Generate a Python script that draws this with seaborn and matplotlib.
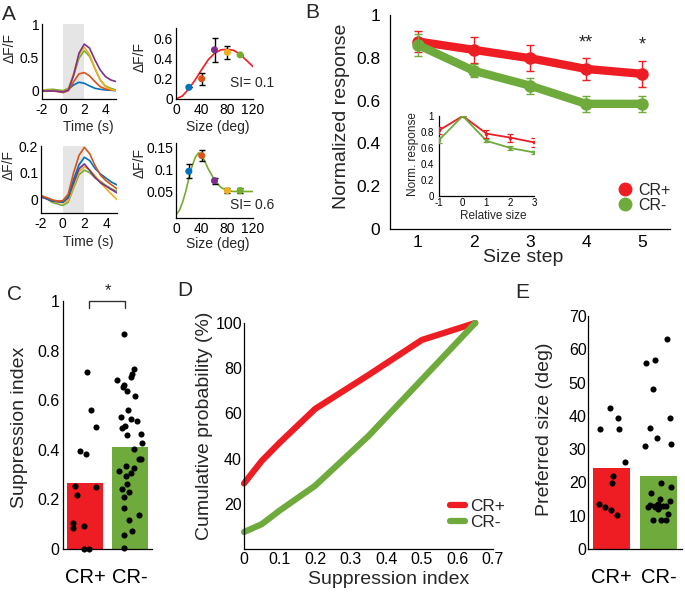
import numpy as np
import pandas as pd
import matplotlib
matplotlib.use("Agg")
import matplotlib.pyplot as plt
import seaborn as sns
from matplotlib.transforms import Affine2D
from matplotlib.lines import Line2D
from matplotlib.ticker import FuncFormatter, FixedFormatter

# ------------------------------------------------------------------ data
# Panel A: example calcium traces (dF/F) for five stimulus sizes
t_sec = [-2, -1.5, -1, -0.5, 0, 0.5, 1, 1.5, 2, 2.5, 3, 3.5, 4, 4.5, 5]
trace1_blue   = [0.0, 0.0, 0.0, 0.0, -0.015, 0.025, 0.09, 0.13, 0.115, 0.075, 0.04, 0.025, 0.015, 0.01, 0.005]
trace1_orange = [0.0, 0.0, 0.0, -0.01, -0.025, 0.005, 0.14, 0.255, 0.275, 0.225, 0.14, 0.065, 0.03, 0.015, 0.015]
trace1_yellow = [0.015, 0.01, 0.005, 0.0, -0.015, 0.025, 0.265, 0.54, 0.655, 0.54, 0.34, 0.165, 0.065, 0.025, 0.005]
trace1_green  = [0.015, 0.02, 0.025, 0.015, 0.005, 0.04, 0.24, 0.49, 0.6, 0.515, 0.34, 0.165, 0.075, 0.04, 0.015]
trace1_purple = [0.0, 0.0, 0.0, -0.005, -0.015, 0.015, 0.24, 0.565, 0.70, 0.64, 0.465, 0.315, 0.215, 0.165, 0.14]

trace2_blue   = [0.012, 0.005, -0.004, -0.006, -0.009, 0.01, 0.075, 0.13, 0.158, 0.145, 0.115, 0.095, 0.08, 0.065, 0.055]
trace2_orange = [0.015, 0.008, 0.0, -0.006, -0.004, 0.02, 0.1, 0.165, 0.195, 0.17, 0.125, 0.09, 0.07, 0.055, 0.04]
trace2_yellow = [0.01, 0.003, -0.004, -0.008, -0.012, -0.005, 0.05, 0.105, 0.122, 0.11, 0.088, 0.063, 0.04, 0.02, 0.0]
trace2_green  = [0.015, 0.005, -0.01, -0.016, -0.022, -0.01, 0.043, 0.093, 0.11, 0.1, 0.08, 0.068, 0.052, 0.04, 0.031]
trace2_purple = [0.01, 0.003, -0.005, -0.008, -0.01, 0.006, 0.062, 0.115, 0.133, 0.108, 0.082, 0.062, 0.05, 0.037, 0.025]

# Panel A: size tuning (mean +- sem) and fits
stim_size = [20, 40, 60, 80, 100]
tune1_resp = [0.115, 0.2, 0.485, 0.46, 0.435]
tune1_err = [0.0, 0.06, 0.12, 0.065, 0.0]
tune2_resp = [0.096, 0.131, 0.075, 0.053, 0.053]
tune2_err = [0.016, 0.013, 0.007, 0.005, 0.005]
fit1_size = [0, 10, 20, 30, 40, 50, 60, 70, 80, 90, 100, 110, 120]
fit1_resp = [0.0, 0.03, 0.1, 0.19, 0.29, 0.385, 0.45, 0.485, 0.49, 0.48, 0.44, 0.38, 0.32]
fit2_size = [0, 5, 10, 15, 20, 25, 30, 35, 40, 45, 50, 60, 70, 80, 90, 100, 110, 120]
fit2_resp = [0.0, 0.008, 0.026, 0.05, 0.08, 0.107, 0.127, 0.137, 0.133, 0.118, 0.102, 0.077, 0.06, 0.053, 0.051, 0.051, 0.051, 0.051]
si_labels = ["SI= 0.1", "SI= 0.6"]

# Panel B
size_step = [1, 2, 3, 4, 5]
b_crpos = [0.876, 0.837, 0.798, 0.748, 0.725]
b_crpos_err = [0.05, 0.06, 0.062, 0.05, 0.062]
b_crneg = [0.86, 0.739, 0.67, 0.585, 0.585]
b_crneg_err = [0.05, 0.03, 0.037, 0.036, 0.036]
rel_size = [-1, 0, 1, 2, 3]
inset_crpos = [0.82, 1.0, 0.78, 0.73, 0.67]
inset_crpos_err = [0.04, 0.0, 0.05, 0.05, 0.06]
inset_crneg = [0.70, 1.0, 0.69, 0.60, 0.545]
inset_crneg_err = [0.04, 0.0, 0.02, 0.02, 0.02]

# Panel C: suppression index per cell
si_crpos = [0.715, 0.56, 0.395, 0.385, 0.49, 0.25, 0.255, 0.217, 0.105, 0.094, 0.085, 0.0, 0.0]
si_crneg = [0.867, 0.726, 0.706, 0.682, 0.695, 0.652, 0.639, 0.66, 0.617, 0.561, 0.534, 0.523,
            0.516, 0.497, 0.487, 0.459, 0.462, 0.427, 0.404, 0.364, 0.364, 0.333, 0.315, 0.325,
            0.306, 0.295, 0.242, 0.262, 0.23, 0.21, 0.165, 0.118, 0.138, 0.074, 0.055, 0.004]
si_mean = [0.268, 0.413]

# Panel D: cumulative distributions
cdf_x = [0.0, 0.05, 0.1, 0.2, 0.35, 0.5, 0.65]
cdf_crpos = [29, 39, 47, 62, 77, 92.5, 100]
cdf_crneg = [7.5, 11, 17, 28, 50, 75, 100]

# Panel E: preferred size per cell
ps_crpos = [36, 36, 42.3, 39.3, 26.1, 21.8, 19.8, 13.6, 12.5, 11.6, 10.3]
ps_crneg = [63, 56.8, 56, 48, 39.3, 36.5, 33.3, 31.5, 30.9, 19.8, 18.6, 16.8, 15, 14.5,
            12.6, 12.6, 12.8, 12.8, 12.8, 13.1, 13.4, 12.8, 12.1, 12.5, 10.5, 8.8, 8.8, 8.8]
ps_mean = [24.3, 22.0]

groups = ["CR+", "CR-"]

# ------------------------------------------------------------------ style
sns.set_theme(style="white")
plt.rcParams["font.family"] = ["Liberation Sans", "DejaVu Sans"]
plt.rcParams["axes.linewidth"] = 0.9

RED = "#EE1D23"
GREEN = "#6EAB3C"
M_BLUE, M_ORANGE, M_YELLOW, M_PURPLE, M_GREEN = "#0072BD", "#D95319", "#EDB120", "#7E2F8E", "#77AC30"
pt_colors = [M_BLUE, M_ORANGE, M_PURPLE, M_YELLOW, M_GREEN]

W, H = 685, 594
fig = plt.figure(figsize=(W / 100, H / 100), dpi=100)
PX = Affine2D().scale(1 / W, -1 / H).translate(0, 1) + fig.transFigure


def rect(l, t, r, b):
    return [l / W, 1 - b / H, (r - l) / W, (b - t) / H]


gfmt = FuncFormatter(lambda v, p: f"{v:g}")


def style(ax, fs, padx=2, pady=2):
    sns.despine(ax=ax)
    ax.set_facecolor("none")
    ax.tick_params(direction="in", length=3, width=0.8, labelsize=fs, colors="black")
    ax.tick_params(axis="x", pad=padx)
    ax.tick_params(axis="y", pad=pady)
    for s in ["left", "bottom"]:
        ax.spines[s].set_color("black")
        ax.spines[s].set_linewidth(0.9)
    ax.xaxis.set_major_formatter(gfmt)
    ax.yaxis.set_major_formatter(gfmt)


def ylab(ax, text, x, y, fs):
    ax.set_ylabel(text, fontsize=fs, va="center", ha="center")
    ax.yaxis.set_label_coords(x, y, transform=PX)


def xlab(ax, text, x, y, fs):
    ax.set_xlabel(text, fontsize=fs, va="center", ha="center")
    ax.xaxis.set_label_coords(x, y, transform=PX)


# ------------------------------------------------------------------ Panel A traces
def traces(ax, tr, ylim, yticks):
    ax.axvspan(0, 2, color="#e5e5e5", zorder=0, lw=0)
    for vals, c in tr:
        sns.lineplot(x=t_sec, y=vals, color=c, linewidth=1.2, ax=ax)
    ax.set_xlim(-2, 5)
    ax.set_ylim(*ylim)
    ax.set_xticks([-2, 0, 2, 4])
    ax.set_yticks(yticks)
    style(ax, 10, padx=3, pady=2)


axA1 = fig.add_axes(rect(42, 24, 116, 99))
traces(axA1, [(trace1_blue, M_BLUE), (trace1_orange, M_ORANGE), (trace1_green, M_GREEN),
              (trace1_yellow, M_YELLOW), (trace1_purple, M_PURPLE)], (-0.12, 1.0), [0, 0.5, 1])
ylab(axA1, "ΔF/F", 10, 48, 10)
xlab(axA1, "Time (s)", 88, 127, 10)

axA3 = fig.add_axes(rect(41, 146, 117, 213))
traces(axA3, [(trace2_green, M_GREEN), (trace2_yellow, M_YELLOW), (trace2_purple, M_PURPLE),
              (trace2_blue, M_BLUE), (trace2_orange, M_ORANGE)], (-0.05, 0.2), [0, 0.1, 0.2])
ylab(axA3, "ΔF/F", 9, 165, 10)
xlab(axA3, "Time (s)", 88, 242, 10)


# ------------------------------------------------------------------ Panel A tuning
def tuning(ax, fx, fy, fc, resp, err, ylim, yticks, si, si_y):
    sns.lineplot(x=fx, y=fy, color=fc, linewidth=1.2, ax=ax)
    ax.errorbar(stim_size, resp, yerr=err, fmt="none", ecolor="black", elinewidth=1.0,
                capsize=2, capthick=1.0, zorder=3)
    sns.scatterplot(x=stim_size, y=resp, hue=[str(s) for s in stim_size], palette=pt_colors,
                    s=26, edgecolor="none", legend=False, ax=ax, zorder=4)
    ax.set_xlim(0, 120)
    ax.set_ylim(*ylim)
    ax.set_xticks([0, 40, 80, 120])
    ax.set_yticks(yticks)
    style(ax, 10, padx=3, pady=2)
    ax.text(153, si_y, si, fontsize=10, ha="right", va="center", clip_on=False)


axA2 = fig.add_axes(rect(176, 28, 253, 99))
tuning(axA2, fit1_size, fit1_resp, RED, tune1_resp, tune1_err, (0, 0.7), [0, 0.2, 0.4, 0.6],
       si_labels[0], 0.157)
ylab(axA2, "ΔF/F", 140, 57, 10)
xlab(axA2, "Size (deg)", 218, 127, 10)

axA4 = fig.add_axes(rect(176, 143, 253, 218))
tuning(axA4, fit2_size, fit2_resp, M_GREEN, tune2_resp, tune2_err, (-0.008, 0.159),
       [0.05, 0.1, 0.15], si_labels[1], 0.021)
axA4.set_xticks([0, 40, 80, 120])
ylab(axA4, "ΔF/F", 140, 163, 10)
xlab(axA4, "Size (deg)", 218, 244, 10)

# ------------------------------------------------------------------ Panel B
axB = fig.add_axes(rect(390, 15, 670, 229))
for vals, errs, c in [(b_crpos, b_crpos_err, RED), (b_crneg, b_crneg_err, GREEN)]:
    sns.lineplot(x=size_step, y=vals, color=c, linewidth=6, marker="o", markersize=9,
                 markeredgewidth=0, ax=axB)
    axB.errorbar(size_step, vals, yerr=errs, fmt="none", ecolor=c, elinewidth=1.0, capsize=3,
                 capthick=1.0, zorder=5)
axB.set_xlim(0.5, 5.5)
axB.set_ylim(0, 1)
axB.set_xticks(size_step)
axB.set_yticks([0, 0.2, 0.4, 0.6, 0.8, 1])
style(axB, 12.5, padx=4, pady=7)
ylab(axB, "Normalized response", 342, 116, 14)
xlab(axB, "Size step", 523, 258, 14)
axB.text(4, 0.871, "**", fontsize=13, ha="center", va="center")
axB.text(5, 0.86, "*", fontsize=13, ha="center", va="center")
hB = [Line2D([], [], marker="o", color=RED, linestyle="none", markersize=9),
      Line2D([], [], marker="o", color=GREEN, linestyle="none", markersize=9)]
axB.legend(hB, groups, loc="upper left", bbox_to_anchor=(617, 183), bbox_transform=PX,
           frameon=False, fontsize=11.5, handlelength=1.0, handletextpad=0.3,
           labelspacing=0.0, borderpad=0, borderaxespad=0)

axI = fig.add_axes(rect(439, 116, 534, 196))
for vals, errs, c in [(inset_crpos, inset_crpos_err, RED), (inset_crneg, inset_crneg_err, GREEN)]:
    sns.lineplot(x=rel_size, y=vals, color=c, linewidth=1.3, marker="o", markersize=2.5,
                 markeredgewidth=0, ax=axI)
    axI.errorbar(rel_size, vals, yerr=errs, fmt="none", ecolor=c, elinewidth=0.9, capsize=2,
                 capthick=0.9, zorder=5)
axI.set_xlim(-1, 3)
axI.set_ylim(0, 1)
axI.set_xticks(rel_size)
axI.set_yticks([0, 0.2, 0.4, 0.6, 0.8, 1])
style(axI, 7, padx=1.2, pady=3.5)
axI.tick_params(length=2)
ylab(axI, "Norm. response", 413, 154, 8.5)
xlab(axI, "Relative size", 493, 216, 8.5)


# ------------------------------------------------------------------ Panels C and E
def bar_strip(ax, a, b, means, ylim, yticks):
    df_mean = pd.DataFrame({"group": groups, "value": means})
    df_cells = pd.DataFrame({"group": ["CR+"] * len(a) + ["CR-"] * len(b), "value": a + b})
    sns.barplot(data=df_mean, x="group", y="value", hue="group", palette=[RED, GREEN],
                saturation=1, width=0.8, edgecolor="none", legend=False, ax=ax, zorder=1)
    sns.stripplot(data=df_cells, x="group", y="value", color="black", jitter=0.3, size=4.4,
                  ax=ax, zorder=3, clip_on=False)
    ax.set_xlim(-0.5, 1.5)
    ax.set_ylim(*ylim)
    ax.set_yticks(yticks)
    style(ax, 11.5, padx=14, pady=2.5)
    ax.tick_params(axis="x", length=0, labelsize=14.5)
    ax.xaxis.set_major_formatter(FixedFormatter(groups))
    ax.set_xlabel("")


np.random.seed(3)
axC = fig.add_axes(rect(63, 301, 152, 549))
bar_strip(axC, si_crpos, si_crneg, si_mean, (0, 1), [0, 0.2, 0.4, 0.6, 0.8, 1])
ylab(axC, "Suppression index", 20, 427, 14)
axC.plot([0.09, 0.09, 0.89, 0.89], [0.97, 1.0, 1.0, 0.97], color="#333333", lw=1.0, clip_on=False)
axC.text(0.5, 1.04, "*", fontsize=12, ha="center", va="center")

np.random.seed(7)
axE = fig.add_axes(rect(588, 316, 682, 549))
bar_strip(axE, ps_crpos, ps_crneg, ps_mean, (0, 70), list(range(0, 71, 10)))
axE.tick_params(axis="y", pad=1)
ylab(axE, "Preferred size (deg)", 545, 429, 14)

# ------------------------------------------------------------------ Panel D
axD = fig.add_axes(rect(244, 323, 493, 549))
sns.lineplot(x=cdf_x, y=cdf_crpos, color=RED, linewidth=4.5, ax=axD, clip_on=False, label="CR+")
sns.lineplot(x=cdf_x, y=cdf_crneg, color=GREEN, linewidth=4.5, ax=axD, clip_on=False, label="CR-")
axD.set_xlim(0, 0.7)
axD.set_ylim(0, 100)
axD.set_xticks([0, 0.1, 0.2, 0.3, 0.4, 0.5, 0.6, 0.7])
axD.set_yticks([20, 40, 60, 80, 100])
style(axD, 11.5, padx=2, pady=1.5)
ylab(axD, "Cumulative probability (%)", 205, 426, 14)
xlab(axD, "Suppression index", 389, 580, 14)
axD.legend(loc="upper left", bbox_to_anchor=(450, 499), bbox_transform=PX, frameon=False,
           fontsize=12.4, handlelength=0.87, handletextpad=0.3, labelspacing=0.06,
           borderpad=0, borderaxespad=0)

# ------------------------------------------------------------------ panel letters
for letter, (x, y) in zip("ABCDE", [(9, 15), (312, 12), (15, 294), (185, 290), (522, 292)]):
    fig.text(x, y, letter, transform=PX, fontsize=15, ha="center", va="center")

fig.savefig("out.png", dpi=100)
